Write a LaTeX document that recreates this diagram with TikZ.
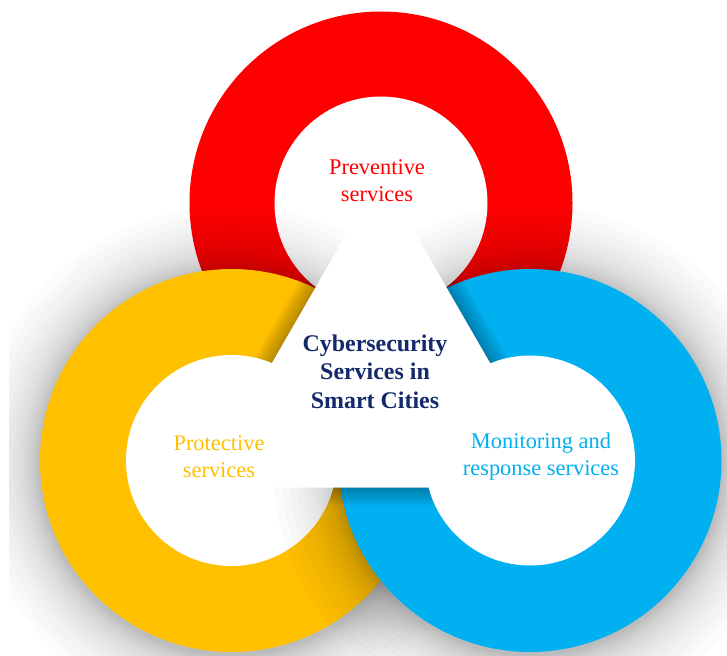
\documentclass[tikz,border=0pt]{standalone}
\usepackage{fontspec}
\setmainfont{Liberation Serif}
\definecolor{cred}{HTML}{FF0000}
\definecolor{cyel}{HTML}{FFC000}
\definecolor{cblu}{HTML}{00B0F0}
\definecolor{cnavy}{HTML}{13296B}
\begin{document}
\begin{tikzpicture}[x=1bp,y=-1bp,
  shadowlayer/.style={black, opacity=0.014},
  trishadow/.style={black, opacity=0.025, line join=round},
  ringtext/.style={align=center, inner sep=0pt, font=\fontsize{22.5}{27}\selectfont},
  titletext/.style={align=center, inner sep=0pt, text=cnavy, font=\fontsize{24}{28.5}\selectfont\bfseries}]
\useasboundingbox[fill=white] (0,0) rectangle (727,656);
\coordinate (R) at (381,203);
\coordinate (Y) at (231.5,460.5);
\coordinate (B) at (530,460.5);
\coordinate (T1) at (381,174);
\coordinate (T2) at (200,487.5);
\coordinate (T3) at (562,487.5);
% red ring
\fill[cred] (R) circle (191.5);
\fill[white] (R) circle (106.5);
% yellow shadow and ring
\begin{scope}
  \clip (9,0) rectangle (727,656);
  \foreach \d in {1,2,4,6,8,10,13,16,19,23,27,32,37,43,50,58,66}
    \fill[shadowlayer] ([yshift=-3bp]Y) circle ({191.5+\d});
\end{scope}
\fill[cyel] (Y) circle (191.5);
\fill[white] (Y) circle (105.5);
% blue shadow and ring
\begin{scope}
  \clip (9,0) rectangle (727,656);
  \foreach \d in {1,2,4,6,8,10,13,16,19,23,27,32,37,43,50,58,66}
    \fill[shadowlayer] ([yshift=-3bp]B) circle ({191.5+\d});
\end{scope}
\fill[cblu] (B) circle (191.5);
\fill[white] (B) circle (105);
% triangle shadow
\begin{scope}[even odd rule]
  \clip (9,0) rectangle (727,656) (R) circle (106.5) (Y) circle (105.5) (B) circle (105);
  \foreach \w in {3,6,...,36}
    \filldraw[trishadow, line width=\w bp] (T1) -- (T2) -- (T3) -- cycle;
\end{scope}
\fill[white] (T1) -- (T2) -- (T3) -- cycle;
% texts
\node[ringtext, text=cred] (prev) at (377,181) {Preventive\\services};
\node[ringtext, text=cyel] (prot) at (219,457) {Protective\\services};
\node[ringtext, text=cblu] (mon) at (541,456.5) {Monitoring and\\response services};
\node[titletext] (title) at (375,371.5) {Cybersecurity\\Services in\\Smart Cities};
\end{tikzpicture}
\end{document}
